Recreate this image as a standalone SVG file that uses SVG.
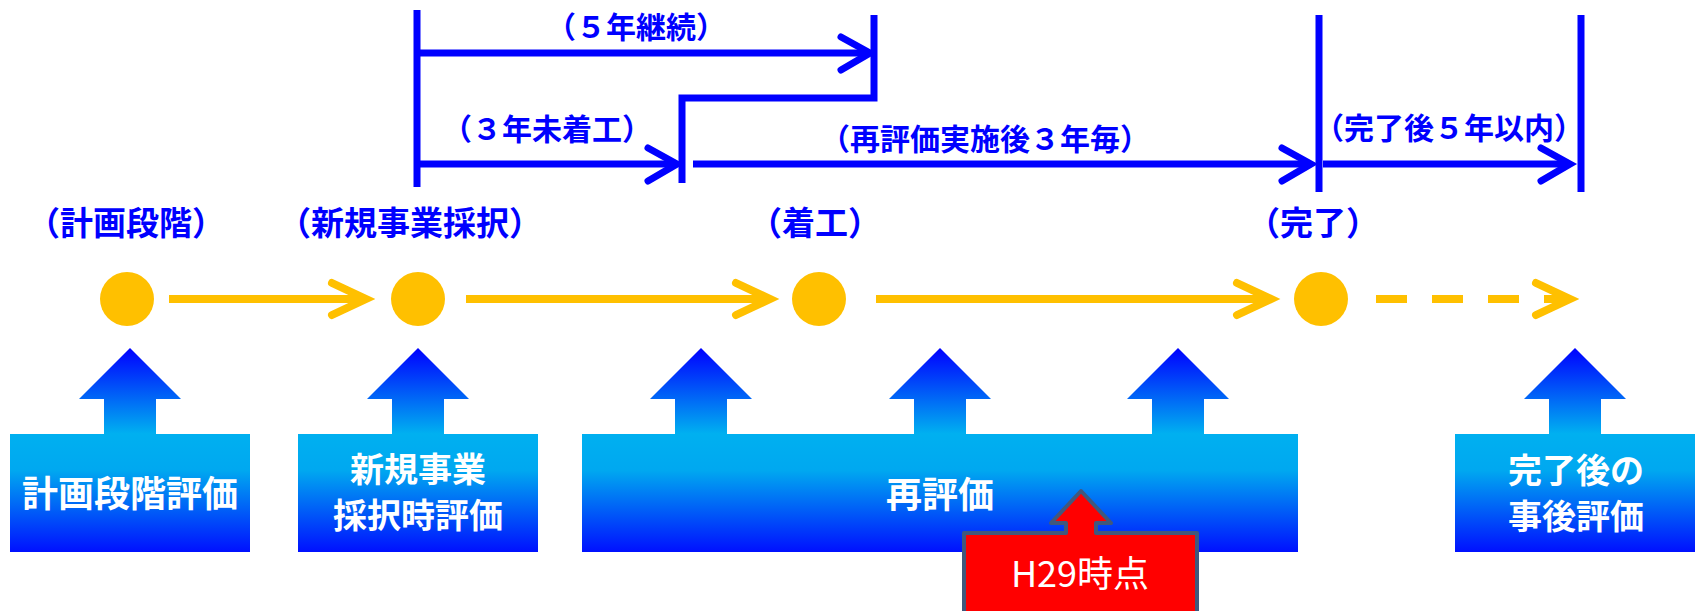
<svg xmlns="http://www.w3.org/2000/svg" width="1696" height="611" viewBox="0 0 1696 611">
<style>
.lbl{font-family:"Noto Sans CJK JP","Noto Sans CJK SC",sans-serif;font-weight:bold;fill:#0000FF;text-anchor:middle}
.top{font-size:30px}
.ph{font-size:33px}
.btxt{font-family:"Noto Sans CJK JP","Noto Sans CJK SC",sans-serif;font-weight:bold;fill:#FFFFFF;text-anchor:middle;font-size:36px}
.two{font-size:34px}
.bl{stroke:#0000FF;stroke-width:7;fill:none}
.blc{stroke:#0000FF;stroke-width:7;fill:none;stroke-linecap:round;stroke-linejoin:miter}
.or{stroke:#FFC000;stroke-width:8;fill:none}
.orc{stroke:#FFC000;stroke-width:8;fill:none;stroke-linecap:round}
.dot{fill:#FFC000}
.box{fill:url(#g)}
</style>
<defs>
<linearGradient id="g" gradientUnits="userSpaceOnUse" x1="0" y1="348" x2="0" y2="552">
<stop offset="0" stop-color="#0000FF"/>
<stop offset="0.42" stop-color="#00B0F0"/>
<stop offset="0.6" stop-color="#00A8F0"/>
<stop offset="1" stop-color="#0010FF"/>
</linearGradient>
</defs>
<g id="connectors">
<line class="bl" x1="417" y1="10" x2="417" y2="187"/>
<line class="bl" x1="417" y1="53" x2="867" y2="53"/>
<polyline class="blc" points="841,37 870,53 841,70"/>
<polyline class="bl" points="874,15 874,98 682,98 682,183" style="stroke-linejoin:miter"/>
<line class="bl" x1="417" y1="164" x2="674" y2="164"/>
<polyline class="blc" points="648,148 677,164 648,181"/>
<line class="bl" x1="693" y1="164" x2="1308" y2="164"/>
<polyline class="blc" points="1282,148 1311,164 1282,181"/>
<line class="bl" x1="1319" y1="15" x2="1319" y2="192"/>
<line class="bl" x1="1323" y1="164" x2="1567" y2="164"/>
<polyline class="blc" points="1541,148 1570,164 1541,181"/>
<line class="bl" x1="1581" y1="15" x2="1581" y2="192"/>
<line class="or" x1="169" y1="299" x2="362" y2="299"/>
<polyline class="orc" points="332,283 366,299 332,315"/>
<line class="or" x1="466" y1="299" x2="766" y2="299"/>
<polyline class="orc" points="736,283 770,299 736,315"/>
<line class="or" x1="876" y1="299" x2="1267" y2="299"/>
<polyline class="orc" points="1237,283 1271,299 1237,315"/>
<line class="or" x1="1376" y1="299" x2="1566" y2="299" stroke-dasharray="31 25"/>
<polyline class="orc" points="1536,283 1570,299 1536,315"/>
</g>
<g id="labels-top">
<text class="lbl top" x="636" y="38">（５年継続）</text>
<text class="lbl top" x="547" y="140">（３年未着工）</text>
<text class="lbl top" x="985" y="150">（再評価実施後３年毎）</text>
<text class="lbl top" x="1449" y="139">（完了後５年以内）</text>
</g>
<g id="stage-plan">
<text class="lbl ph" x="126" y="235">（計画段階）</text>
<circle class="dot" cx="127" cy="299" r="27"/>
</g>
<g id="stage-adopt">
<text class="lbl ph" x="410" y="235">（新規事業採択）</text>
<circle class="dot" cx="418" cy="299" r="27"/>
</g>
<g id="stage-start">
<text class="lbl ph" x="815" y="235">（着工）</text>
<circle class="dot" cx="819" cy="299" r="27"/>
</g>
<g id="stage-done">
<text class="lbl ph" x="1313" y="235">（完了）</text>
<circle class="dot" cx="1321" cy="299" r="27"/>
</g>
<g id="eval-plan">
<path class="box" d="M10,434 H104 V399 H79 L130,348 L181,399 H156 V434 H250 V552 H10 Z"/>
<text class="btxt" x="130" y="507">計画段階評価</text>
</g>
<g id="eval-adopt">
<path class="box" d="M298,434 H392 V399 H367 L418,348 L469,399 H444 V434 H538 V552 H298 Z"/>
<text class="btxt two" x="418" y="482">新規事業</text>
<text class="btxt two" x="418" y="528">採択時評価</text>
</g>
<g id="eval-re">
<path class="box" d="M582,434 H675 V399 H650 L701,348 L752,399 H727 V434 H914 V399 H889 L940,348 L991,399 H966 V434 H1152 V399 H1127 L1178,348 L1229,399 H1204 V434 H1298 V552 H582 Z"/>
<text class="btxt" x="940" y="508">再評価</text>
</g>
<g id="eval-post">
<path class="box" d="M1455,434 H1549 V399 H1524 L1575,348 L1626,399 H1601 V434 H1695 V552 H1455 Z"/>
<text class="btxt two" x="1576" y="483">完了後の</text>
<text class="btxt two" x="1576" y="529">事後評価</text>
</g>
<g id="h29">
<path d="M964,533 H1066 V523 H1051 L1081,491 L1111,523 H1096 V533 H1197 V616 H964 Z" fill="#FF0000" stroke="#41587C" stroke-width="4" stroke-linejoin="round"/>
<text x="1080" y="587" font-family="Noto Sans CJK JP, Noto Sans CJK SC, sans-serif" font-size="36" fill="#FFFFFF" text-anchor="middle">H29時点</text>
</g>
</svg>
